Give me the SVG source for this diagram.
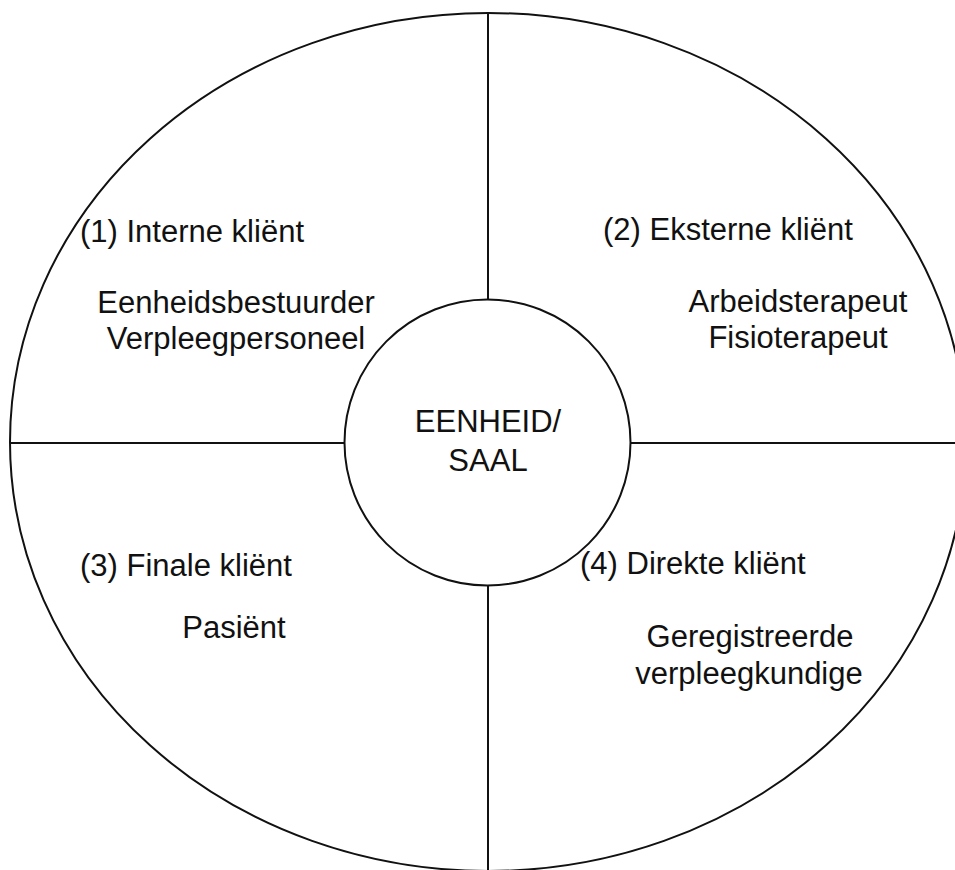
<svg xmlns="http://www.w3.org/2000/svg" width="955" height="870" viewBox="0 0 955 870">
<style>
.ln{fill:none;stroke:#111;stroke-width:2}
.t{font-family:"Liberation Sans",Arial,sans-serif;font-size:31px;fill:#111}
.m{text-anchor:middle}
</style>
<rect width="955" height="870" fill="#fff"/>
<g id="outer-circle">
<ellipse class="ln" cx="488" cy="442" rx="478" ry="429"/>
</g>
<g id="connectors">
<line class="ln" x1="488" y1="13" x2="488" y2="870"/>
<line class="ln" x1="10" y1="443" x2="955" y2="443"/>
</g>
<g id="center">
<circle cx="487.5" cy="442.5" r="143" fill="#fff" stroke="#111" stroke-width="2"/>
<text class="t m" x="488" y="432">EENHEID/</text>
<text class="t m" x="488" y="471">SAAL</text>
</g>
<g id="q1">
<text class="t" x="80" y="242">(1) Interne kliënt</text>
<text class="t m" x="236" y="313">Eenheidsbestuurder</text>
<text class="t m" x="236" y="349">Verpleegpersoneel</text>
</g>
<g id="q2">
<text class="t" x="603" y="240">(2) Eksterne kliënt</text>
<text class="t m" x="798" y="312">Arbeidsterapeut</text>
<text class="t m" x="798" y="348">Fisioterapeut</text>
</g>
<g id="q3">
<text class="t" x="80" y="576">(3) Finale kliënt</text>
<text class="t m" x="234" y="638">Pasiënt</text>
</g>
<g id="q4">
<text class="t" x="580" y="574">(4) Direkte kliënt</text>
<text class="t m" x="750" y="647">Geregistreerde</text>
<text class="t m" x="749" y="684">verpleegkundige</text>
</g>
</svg>
